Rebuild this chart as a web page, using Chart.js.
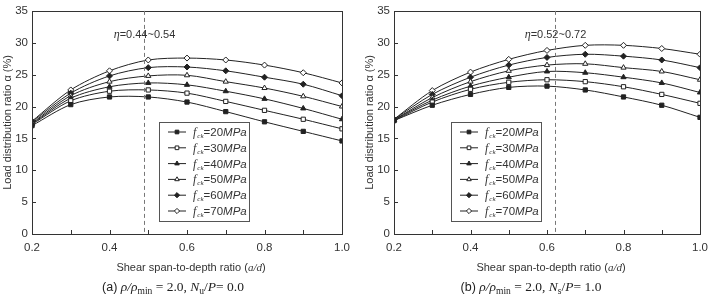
<!DOCTYPE html>
<html>
<head>
<meta charset="utf-8">
<script src="https://cdn.jsdelivr.net/npm/chart.js@4.4.0/dist/chart.umd.min.js"></script>
<style>
  html, body { margin: 0; padding: 0; background: #fff; }
  #wrap { position: relative; width: 715px; height: 298px; }
  #chartA { position: absolute; left: 0; top: 0; }
  #chartB { position: absolute; left: 362px; top: 0; }
</style>
</head>
<body>
<div id="wrap">
  <canvas id="chartA" width="357" height="298"></canvas>
  <canvas id="chartB" width="353" height="298"></canvas>
</div>
<script>
// shear span-to-depth ratio a/d
const ratios = [0.2, 0.3, 0.4, 0.5, 0.6, 0.7, 0.8, 0.9, 1.0];
const strengths = [20, 30, 40, 50, 60, 70];
const xTicks = [0.2, 0.4, 0.6, 0.8, 1.0];
const yTicks = [0, 5, 10, 15, 20, 25, 30, 35];

// (a) rho/rho_min = 2.0, N/P = 0.0
const a20 = [17.0, 20.3, 21.5, 21.5, 20.7, 19.2, 17.6, 16.1, 14.6];
const a30 = [17.2, 20.9, 22.4, 22.6, 22.1, 20.8, 19.4, 18.0, 16.5];
const a40 = [17.3, 21.3, 23.1, 23.7, 23.4, 22.4, 21.2, 19.7, 18.0];
const a50 = [17.4, 21.7, 23.9, 24.8, 24.9, 23.9, 22.9, 21.6, 20.0];
const a60 = [17.6, 22.1, 24.8, 26.1, 26.2, 25.6, 24.6, 23.5, 21.7];
const a70 = [17.7, 22.6, 25.6, 27.3, 27.6, 27.3, 26.5, 25.3, 23.7];
const etaA = 0.49;

// (b) rho/rho_min = 2.0, N/P = 1.0
const b20 = [17.8, 20.2, 21.9, 23.0, 23.2, 22.6, 21.5, 20.2, 18.3];
const b30 = [17.8, 20.7, 22.7, 23.8, 24.2, 23.9, 23.1, 21.9, 20.5];
const b40 = [17.9, 21.0, 23.2, 24.6, 25.5, 25.3, 24.6, 23.7, 22.2];
const b50 = [17.9, 21.4, 23.9, 25.6, 26.5, 26.7, 26.1, 25.5, 24.2];
const b60 = [18.0, 21.9, 24.6, 26.5, 27.7, 28.2, 27.9, 27.3, 26.1];
const b70 = [18.0, 22.5, 25.4, 27.4, 28.8, 29.6, 29.6, 29.1, 28.2];
const etaB = 0.62;

const pointStyles = ['rect', 'rect', 'triangle', 'triangle', 'rectRot', 'rectRot'];
const filled = [true, false, true, false, true, false];

const SANS = '"Liberation Sans", Arial, sans-serif';
const SERIF = '"Liberation Serif", "Times New Roman", serif';
const INK = '#222';

function drawRich(ctx, segs, cx, y) {
  let w = 0;
  segs.forEach(s => { ctx.font = s.f; w += ctx.measureText(s.t).width; });
  let x = cx - w / 2;
  ctx.textAlign = 'left';
  ctx.textBaseline = 'alphabetic';
  segs.forEach(s => {
    ctx.font = s.f;
    ctx.fillText(s.t, x, y + (s.dy || 0));
    x += ctx.measureText(s.t).width;
  });
}

const extras = {
  id: 'extras',
  afterDraw(chart, args, o) {
    const ctx = chart.ctx;
    const a = chart.chartArea;
    const xs = chart.scales.x, ys = chart.scales.y;
    ctx.save();
    // frame
    ctx.strokeStyle = '#333';
    ctx.lineWidth = 1;
    ctx.strokeRect(Math.round(a.left) + 0.5, Math.round(a.top) + 0.5,
      Math.round(a.right - a.left), Math.round(a.bottom - a.top));
    // inward tick marks
    ctx.beginPath();
    ratios.forEach(r => {
      const px = Math.round(xs.getPixelForValue(r)) + 0.5;
      ctx.moveTo(px, a.bottom); ctx.lineTo(px, a.bottom - 4);
    });
    yTicks.forEach(v => {
      const py = Math.round(ys.getPixelForValue(v)) + 0.5;
      ctx.moveTo(a.left, py); ctx.lineTo(a.left + 4, py);
    });
    ctx.stroke();
    // eta line
    const ex = Math.round(xs.getPixelForValue(o.eta)) + 0.5;
    ctx.strokeStyle = '#777';
    ctx.setLineDash([4, 3]);
    ctx.beginPath();
    ctx.moveTo(ex, a.top); ctx.lineTo(ex, a.bottom);
    ctx.stroke();
    ctx.setLineDash([]);
    ctx.fillStyle = '#333';
    drawRich(ctx, [
      { t: 'η', f: 'italic 12px ' + SERIF },
      { t: '=' + o.etaText, f: '11px ' + SANS }
    ], ex, a.top + 27);
    // legend
    const lx = o.legendX, ly = 122, lw = 90, lh = 99;
    ctx.fillStyle = '#fff';
    ctx.fillRect(lx, ly, lw, lh);
    ctx.strokeStyle = '#555';
    ctx.strokeRect(lx + 0.5, ly + 0.5, lw, lh);
    chart.data.datasets.forEach((ds, i) => {
      const yy = ly + 10 + i * 15.8;
      ctx.strokeStyle = INK;
      ctx.beginPath();
      ctx.moveTo(lx + 9, yy); ctx.lineTo(lx + 27, yy);
      ctx.stroke();
      ctx.fillStyle = filled[i] ? INK : '#fff';
      Chart.helpers.drawPoint(ctx, { pointStyle: pointStyles[i], radius: 2.6, borderWidth: 1, rotation: 0 }, lx + 18, yy);
      ctx.fillStyle = '#333';
      let tx = lx + 34;
      const parts = [
        { t: 'f', f: 'italic 12px ' + SERIF, dy: 0 },
        { t: 'ck', f: 'italic 7px ' + SERIF, dy: 2 },
        { t: '=' + strengths[i], f: '11.5px ' + SANS, dy: 0 },
        { t: 'MPa', f: 'italic 11.5px ' + SANS, dy: 0 }
      ];
      ctx.textAlign = 'left';
      ctx.textBaseline = 'alphabetic';
      parts.forEach(p => {
        ctx.font = p.f;
        ctx.fillText(p.t, tx, yy + 4 + p.dy);
        tx += ctx.measureText(p.t).width + (p.t === 'f' ? 1 : 0);
      });
    });
    // x title
    ctx.fillStyle = '#333';
    const cx = (a.left + a.right) / 2 + 4;
    drawRich(ctx, [
      { t: 'Shear span-to-depth ratio (', f: '11px ' + SANS },
      { t: 'a/d', f: 'italic 11px ' + SERIF },
      { t: ')', f: '11px ' + SANS }
    ], cx, 271);
    // caption
    ctx.fillStyle = '#222';
    drawRich(ctx, [
      { t: o.tag + ' ', f: '12.5px ' + SANS },
      { t: 'ρ/ρ', f: 'italic 13.5px ' + SERIF },
      { t: 'min', f: '9.5px ' + SERIF, dy: 3 },
      { t: ' = 2.0, ', f: '13.5px ' + SERIF },
      { t: 'N', f: 'italic 13.5px ' + SERIF },
      { t: o.sub, f: '9.5px ' + SERIF, dy: 3 },
      { t: '/', f: '13.5px ' + SERIF },
      { t: 'P', f: 'italic 13.5px ' + SERIF },
      { t: '= ' + o.np, f: '13.5px ' + SERIF }
    ], o.captionX, 291);
    ctx.restore();
  }
};

function makeChart(id, series, opts) {
  return new Chart(document.getElementById(id), {
    type: 'line',
    data: {
      datasets: series.map((vals, i) => ({
        label: 'fck=' + strengths[i] + 'MPa',
        data: ratios.map((r, j) => ({ x: r, y: vals[j] })),
        borderColor: INK,
        borderWidth: 1,
        tension: 0.3,
        pointStyle: pointStyles[i],
        pointRadius: 3,
        pointBorderWidth: 1,
        pointBorderColor: INK,
        pointBackgroundColor: filled[i] ? INK : '#fff'
      }))
    },
    options: {
      responsive: false,
      animation: false,
      layout: { padding: { top: -3, right: opts.padRight, left: 0, bottom: 0 } },
      plugins: {
        legend: { display: false },
        tooltip: { enabled: false },
        extras: opts
      },
      scales: {
        x: {
          type: 'linear',
          min: 0.2,
          max: 1.0,
          afterBuildTicks: s => { s.ticks = xTicks.map(v => ({ value: v })); },
          afterFit: s => { s.height = 64; },
          grid: { display: false, drawTicks: false },
          border: { display: false },
          ticks: {
            padding: 7,
            color: '#333',
            font: { family: SANS, size: 11.5 },
            callback: v => Number(v).toFixed(1),
            maxRotation: 0
          }
        },
        y: {
          min: 0,
          max: 35,
          afterBuildTicks: s => { s.ticks = yTicks.map(v => ({ value: v })); },
          afterFit: s => { s.width = 32; },
          grid: { display: false, drawTicks: false },
          border: { display: false },
          ticks: {
            padding: 4,
            color: '#333',
            font: { family: SANS, size: 11.5 }
          },
          title: {
            display: true,
            text: 'Load distribution ratio α (%)',
            color: '#333',
            font: { family: SANS, size: 11 },
            padding: 1
          }
        }
      }
    },
    plugins: [extras]
  });
}

makeChart('chartA', [a20, a30, a40, a50, a60, a70], {
  eta: etaA, etaText: '0.44~0.54', legendX: 159, padRight: 12,
  tag: '(a)', sub: 'u', np: '0.0', captionX: 173
});
makeChart('chartB', [b20, b30, b40, b50, b60, b70], {
  eta: etaB, etaText: '0.52~0.72', legendX: 89, padRight: 8,
  tag: '(b)', sub: 's', np: '1.0', captionX: 169
});
</script>
</body>
</html>
